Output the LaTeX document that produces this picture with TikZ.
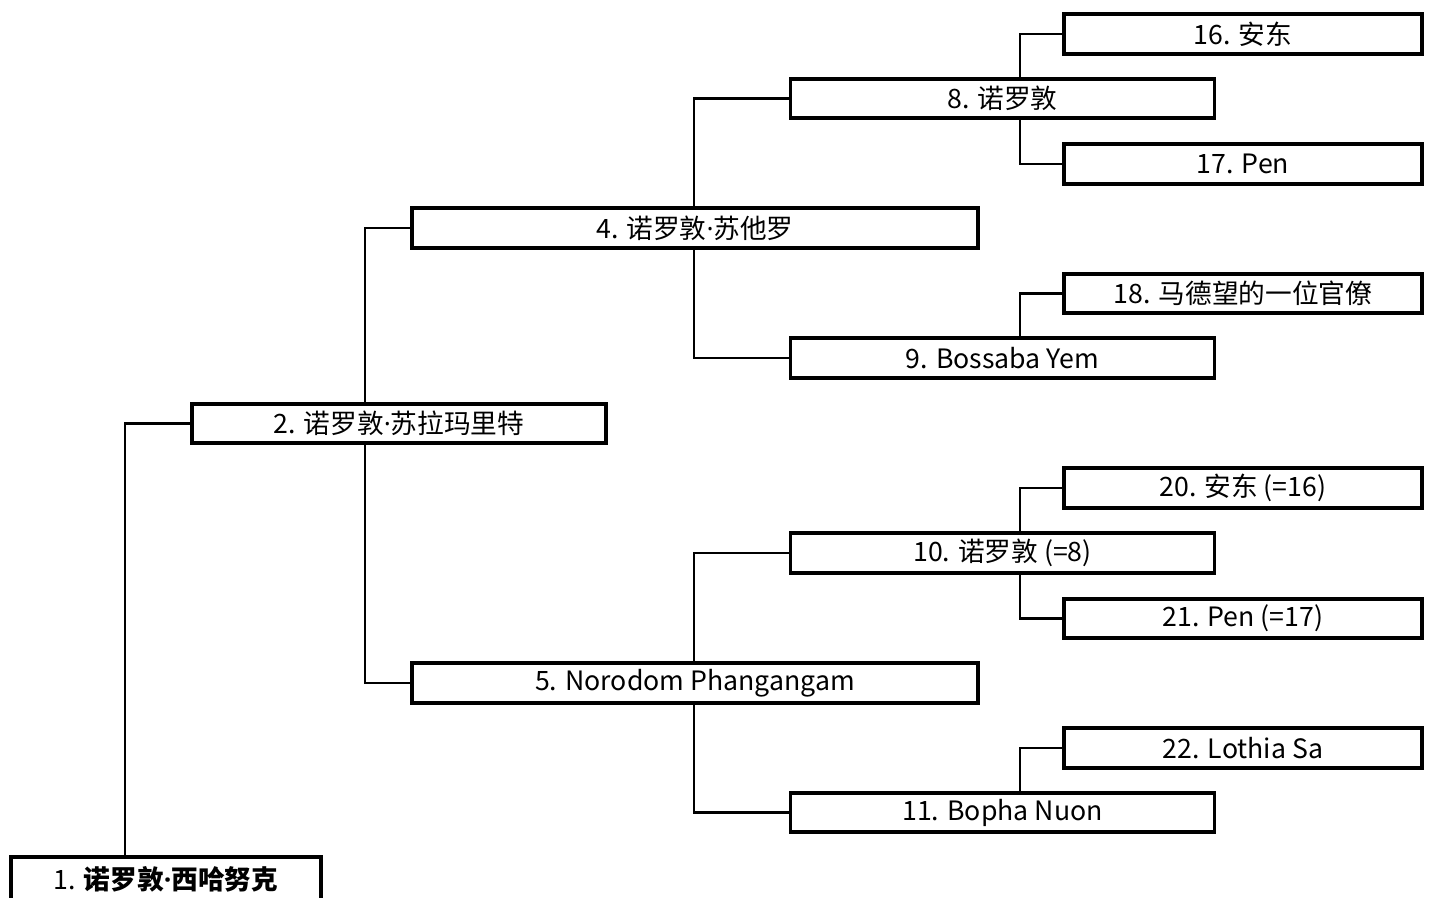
\documentclass[tikz,border=0pt]{standalone}
\usepackage{fontspec}
\setmainfont{Noto Sans CJK SC}
\newfontfamily\dotfont{Open Sans}
\newcommand{\mdot}{{\dotfont ·}}
\usetikzlibrary{positioning}

\tikzset{
  person/.style={draw, line width=2.8pt, inner sep=0pt, minimum height=29.5pt,
    font=\fontsize{20}{23}\selectfont},
  link/.style={line width=1.6pt},
}

\begin{document}
\begin{tikzpicture}[x=0.75pt,y=0.75pt,yscale=-1,xscale=1]
\useasboundingbox (0,0) rectangle (1435,898);

%Generation 1
\node[person, minimum width=233pt, minimum height=33pt] (n1) at (166,879) {1. \textbf{诺罗敦\mdot 西哈努克}};
%Generation 2
\node[person, minimum width=310pt] (n2) at (399,423.5) {2. 诺罗敦\mdot 苏拉玛里特};
%Generation 3
\node[person, minimum width=425pt] (n4) at (695,228) {4. 诺罗敦\mdot 苏他罗};
\node[person, minimum width=425pt] (n5) at (695,683) {5. Norodom Phangangam};
%Generation 4
\node[person, minimum width=318pt] (n8) at (1002.5,98.5) {8. 诺罗敦};
\node[person, minimum width=318pt] (n9) at (1002.5,358) {9. Bossaba Yem};
\node[person, minimum width=318pt] (n10) at (1002.5,553) {10. 诺罗敦 (=8)};
\node[person, minimum width=318pt] (n11) at (1002.5,812.5) {11. Bopha Nuon};
%Generation 5
\node[person, minimum width=269pt] (n16) at (1243,34) {16. 安东};
\node[person, minimum width=269pt] (n17) at (1243,164) {17. Pen};
\node[person, minimum width=269pt] (n18) at (1243,293.5) {18. 马德望的一位官僚};
\node[person, minimum width=269pt] (n20) at (1243,488) {20. 安东 (=16)};
\node[person, minimum width=269pt] (n21) at (1243,618.5) {21. Pen (=17)};
\node[person, minimum width=269pt] (n22) at (1243,748) {22. Lothia Sa};

%Links
\draw[link] (n1.north -| 125,0) |- (n2.west);
\draw[link] (n2.north -| 365,0) |- (n4.west);
\draw[link] (n2.south -| 365,0) |- (n5.west);
\draw[link] (n4.north -| 694,0) |- (n8.west);
\draw[link] (n4.south -| 694,0) |- (n9.west);
\draw[link] (n5.north -| 694,0) |- (n10.west);
\draw[link] (n5.south -| 694,0) |- (n11.west);
\draw[link] (n8.north -| 1020,0) |- (n16.west);
\draw[link] (n8.south -| 1020,0) |- (n17.west);
\draw[link] (n9.north -| 1020,0) |- (n18.west);
\draw[link] (n10.north -| 1020,0) |- (n20.west);
\draw[link] (n10.south -| 1020,0) |- (n21.west);
\draw[link] (n11.north -| 1020,0) |- (n22.west);

\end{tikzpicture}
\end{document}
